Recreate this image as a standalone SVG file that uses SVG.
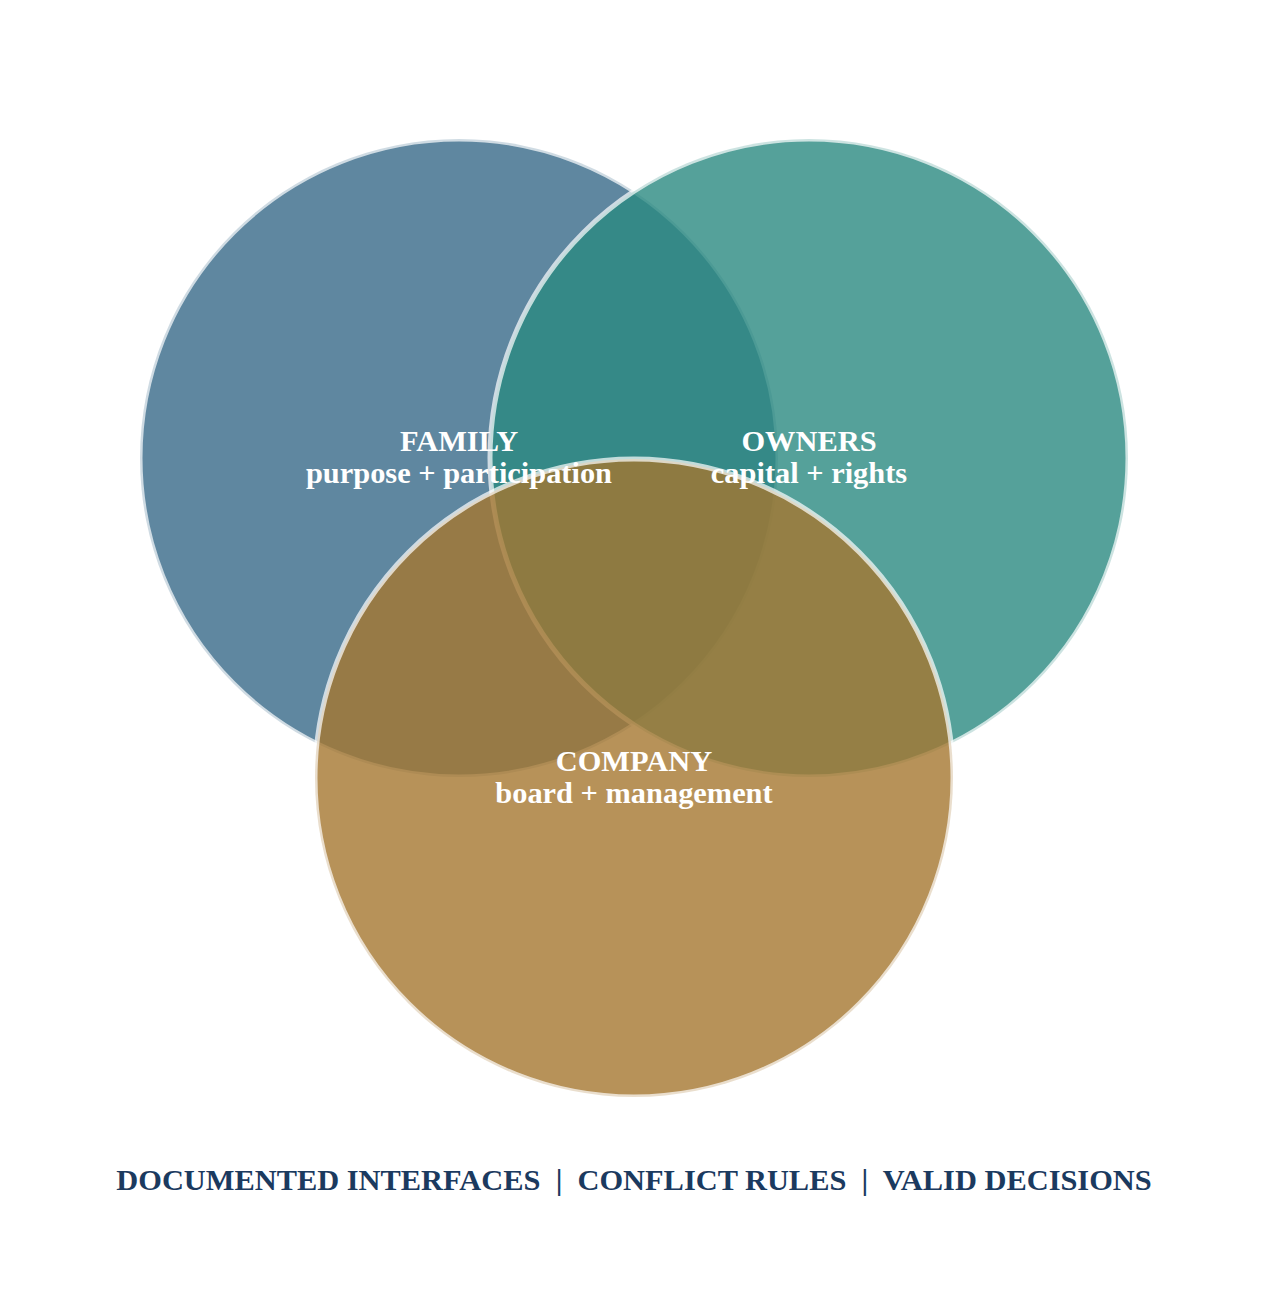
<svg xmlns="http://www.w3.org/2000/svg" width="1268" height="1297" viewBox="0 0 1268 1297">
<style>
.c{stroke:#ffffff;stroke-opacity:0.7;stroke-width:5;fill-opacity:0.8}
.lbl{font-family:"Liberation Serif","Times New Roman",serif;font-weight:bold;font-size:30.4px;fill:#ffffff;text-anchor:middle}
.foot{font-family:"Liberation Serif","Times New Roman",serif;font-weight:bold;font-size:30.4px;fill:#1b3a5f;text-anchor:middle}
</style>
<rect width="1268" height="1297" fill="#ffffff"/>
<g id="family"><circle class="c" cx="459" cy="458" r="319" fill="#376988"/></g>
<g id="owners"><circle class="c" cx="809" cy="458" r="319" fill="#2b8981"/></g>
<g id="company"><circle class="c" cx="634" cy="778" r="319" fill="#a57730"/></g>
<g id="labels">
<text class="lbl" x="459" y="451">FAMILY</text>
<text class="lbl" x="459" y="483">purpose + participation</text>
<text class="lbl" x="809" y="451">OWNERS</text>
<text class="lbl" x="809" y="483">capital + rights</text>
<text class="lbl" x="634" y="771">COMPANY</text>
<text class="lbl" x="634" y="803">board + management</text>
</g>
<g id="connectors"></g>
<text class="foot" x="634" y="1190" xml:space="preserve">DOCUMENTED INTERFACES  |  CONFLICT RULES  |  VALID DECISIONS</text>
</svg>
